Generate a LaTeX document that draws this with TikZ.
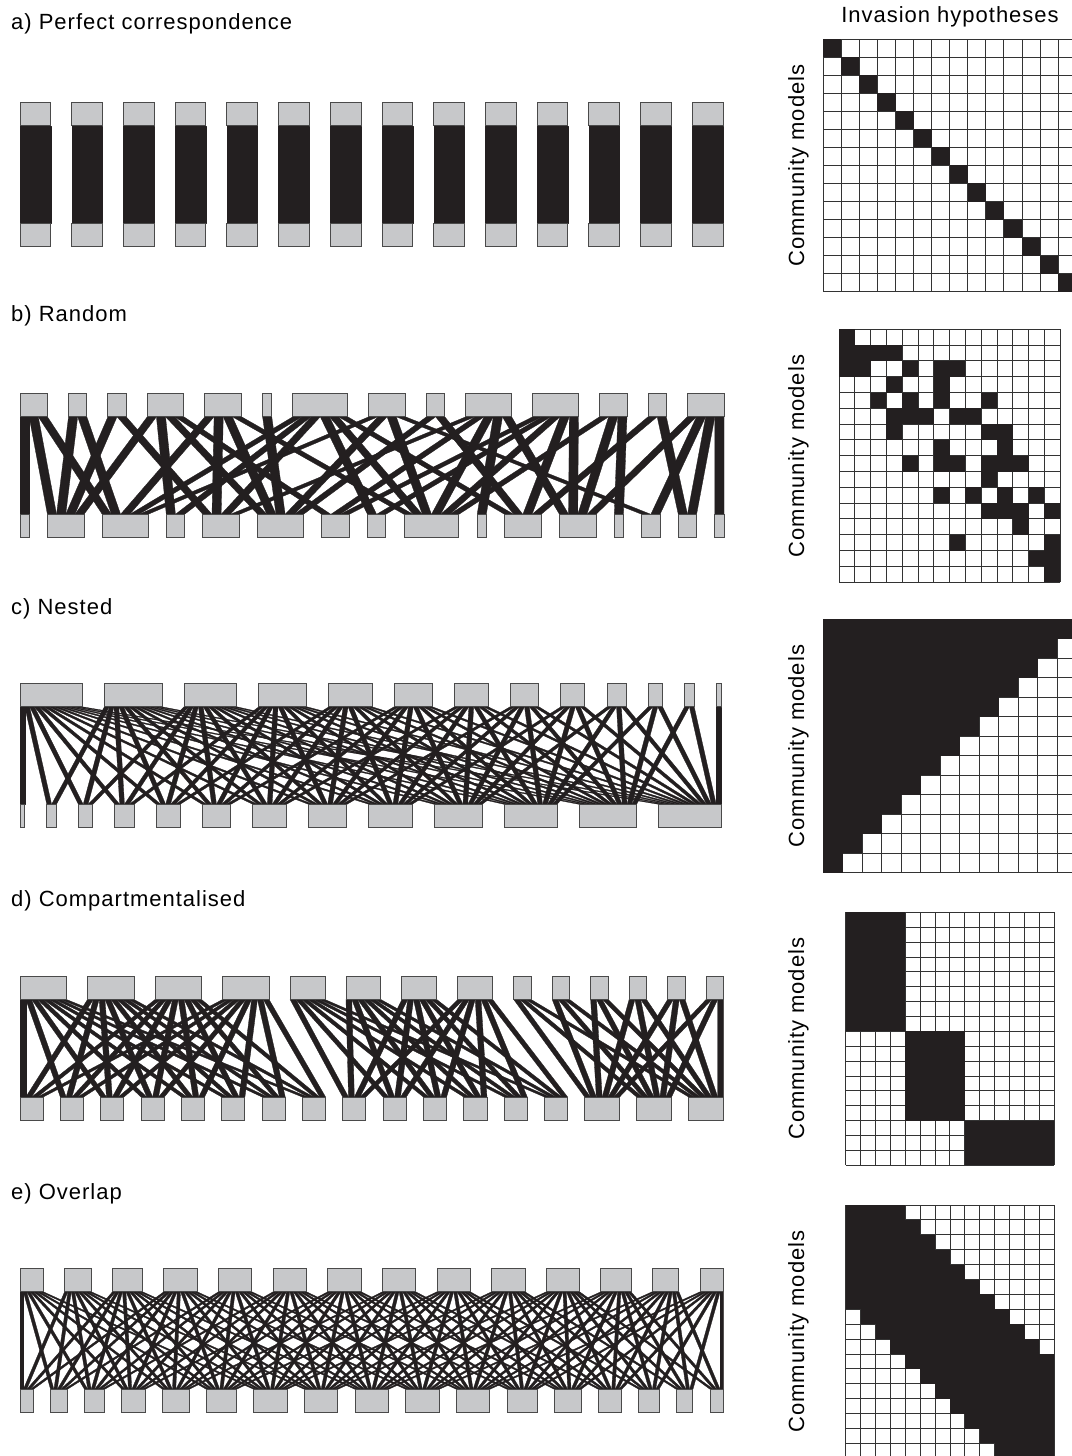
\documentclass[tikz,border=0pt]{standalone}
\usepackage{fontspec}
\setmainfont{Liberation Sans}
\newfontfamily\lblfont[LetterSpace=4.5]{Liberation Sans}
\definecolor{ink}{HTML}{231F20}
\definecolor{boxgray}{HTML}{C7C8CA}
\definecolor{boxline}{HTML}{4A4A4A}
\definecolor{gridc}{HTML}{333333}
\tikzset{
  webbox/.style={fill=boxgray, draw=boxline, line width=0.9pt},
  linkband/.style={fill=ink, draw=ink, line width=0.3pt, line join=round},
  gridl/.style={draw=gridc, line width=0.9pt, line cap=square},
  cellb/.style={fill=ink},
  lbl/.style={font=\lblfont\fontsize{22}{26}\selectfont, inner sep=0pt},
}
\newcommand\wboxh{23.5}
\newcommand\wspan{97.5}

% #1 ytop, #2 unit, #3 x0, #4 x1, #5 ncols(top), #6 nrows(bottom), #7 row lists
\newcommand\drawweb[7]{%
  \def\wy{#1}\def\wu{#2}%
  \foreach \j in {1,...,#5}{%
    \expandafter\xdef\csname wcd\j\endcsname{0}%
    \expandafter\xdef\csname wtc\j\endcsname{0}}%
  \xdef\wtot{0}%
  \foreach \r [count=\i] in #7{%
    \xdef\wrdeg{0}%
    \foreach \j in \r{%
      \expandafter\xdef\csname wcd\j\endcsname{\the\numexpr\csname wcd\j\endcsname+1\relax}%
      \xdef\wrdeg{\the\numexpr\wrdeg+1\relax}}%
    \expandafter\xdef\csname wrd\i\endcsname{\wrdeg}%
    \xdef\wtot{\the\numexpr\wtot+\wrdeg\relax}}%
  \pgfmathsetmacro\wgt{((#4)-(#3)-\wtot*\wu)/(#5-1)}%
  \pgfmathsetmacro\wgb{((#4)-(#3)-\wtot*\wu)/(#6-1)}%
  \xdef\wcx{#3}%
  \foreach \j in {1,...,#5}{%
    \expandafter\xdef\csname wtx\j\endcsname{\wcx}%
    \pgfmathsetmacro\wn{\wcx+\csname wcd\j\endcsname*\wu+\wgt}%
    \xdef\wcx{\wn}}%
  \xdef\wcx{#3}%
  \foreach \i in {1,...,#6}{%
    \expandafter\xdef\csname wbx\i\endcsname{\wcx}%
    \pgfmathsetmacro\wn{\wcx+\csname wrd\i\endcsname*\wu+\wgb}%
    \xdef\wcx{\wn}}%
  \pgfmathsetmacro\wya{\wy+\wboxh}%
  \pgfmathsetmacro\wyb{\wya+\wspan}%
  \foreach \r [count=\i] in #7{%
    \xdef\wk{0}%
    \foreach \j in \r{%
      \pgfmathsetmacro\wta{\csname wtx\j\endcsname+\csname wtc\j\endcsname*\wu}%
      \pgfmathsetmacro\wba{\csname wbx\i\endcsname+\wk*\wu}%
      \filldraw[linkband] (\wta,\wya) -- (\wta+\wu,\wya) -- (\wba+\wu,\wyb) -- (\wba,\wyb) -- cycle;
      \expandafter\xdef\csname wtc\j\endcsname{\the\numexpr\csname wtc\j\endcsname+1\relax}%
      \xdef\wk{\the\numexpr\wk+1\relax}}}%
  \foreach \j in {1,...,#5}{%
    \edef\wxx{\csname wtx\j\endcsname}%
    \pgfmathsetmacro\ww{\csname wcd\j\endcsname*\wu}%
    \filldraw[webbox] (\wxx,\wy) rectangle (\wxx+\ww,\wya);}%
  \foreach \i in {1,...,#6}{%
    \edef\wxx{\csname wbx\i\endcsname}%
    \pgfmathsetmacro\ww{\csname wrd\i\endcsname*\wu}%
    \filldraw[webbox] (\wxx,\wyb) rectangle (\wxx+\ww,\wyb+\wboxh);}%
}

% #1 x, #2 y, #3 cell, #4 ncols, #5 nrows, #6 row lists
\newcommand\drawmat[6]{%
  \fill[white] (#1,#2) rectangle ({#1+#4*#3},{#2+#5*#3});
  \foreach \c in {0,...,#4}{\draw[gridl] ({#1+\c*#3},#2) -- ({#1+\c*#3},{#2+#5*#3});}
  \foreach \c in {0,...,#5}{\draw[gridl] (#1,{#2+\c*#3}) -- ({#1+#4*#3},{#2+\c*#3});}
  \foreach \r [count=\i] in #6{\foreach \j in \r{\fill[cellb] ({#1+(\j-1)*#3},{#2+(\i-1)*#3}) rectangle ++(#3,#3);}}
}

\def\rowsA{{1},{2},{3},{4},{5},{6},{7},{8},{9},{10},{11},{12},{13},{14}}
\def\rowsB{{1},{1,2,3,4},{1,2,5,7,8},{4,7},{3,5,7,10},{4,5,6,8,9},{4,10,11},{7,11},{5,7,8,10,11,12},{10},{7,9,11,13},{10,11,12,14},{12},{8,14},{13,14},{14}}
\def\rowsCweb{{1},{1,2},{1,2,3},{1,2,3,4},{1,2,3,4,5},{1,2,3,4,5,6},{1,2,3,4,5,6,7},{1,2,3,4,5,6,7,8},{1,2,3,4,5,6,7,8,9},{1,2,3,4,5,6,7,8,9,10},{1,2,3,4,5,6,7,8,9,10,11},{1,2,3,4,5,6,7,8,9,10,11,12},{1,2,3,4,5,6,7,8,9,10,11,12,13}}
\def\rowsCmat{{1,2,3,4,5,6,7,8,9,10,11,12,13},{1,2,3,4,5,6,7,8,9,10,11,12},{1,2,3,4,5,6,7,8,9,10,11},{1,2,3,4,5,6,7,8,9,10},{1,2,3,4,5,6,7,8,9},{1,2,3,4,5,6,7,8},{1,2,3,4,5,6,7},{1,2,3,4,5,6},{1,2,3,4,5},{1,2,3,4},{1,2,3},{1,2},{1}}
\def\rowsD{{1,2,3,4},{1,2,3,4},{1,2,3,4},{1,2,3,4},{1,2,3,4},{1,2,3,4},{1,2,3,4},{1,2,3,4},{5,6,7,8},{5,6,7,8},{5,6,7,8},{5,6,7,8},{5,6,7,8},{5,6,7,8},{9,10,11,12,13,14},{9,10,11,12,13,14},{9,10,11,12,13,14}}
\def\rowsE{{1,2,3,4},{1,2,3,4,5},{1,2,3,4,5,6},{1,2,3,4,5,6,7},{1,2,3,4,5,6,7,8},{1,2,3,4,5,6,7,8,9},{1,2,3,4,5,6,7,8,9,10},{2,3,4,5,6,7,8,9,10,11},{3,4,5,6,7,8,9,10,11,12},{4,5,6,7,8,9,10,11,12,13},{5,6,7,8,9,10,11,12,13,14},{6,7,8,9,10,11,12,13,14},{7,8,9,10,11,12,13,14},{8,9,10,11,12,13,14},{9,10,11,12,13,14},{10,11,12,13,14},{11,12,13,14}}

\begin{document}
\begin{tikzpicture}[x=1pt,y=-1pt]
\useasboundingbox (0,0) rectangle (1071,1456);
\fill[white] (0,0) rectangle (1071,1456);

% panel labels
\node[lbl, anchor=base west] (la) at (11,29) {a) Perfect correspondence};
\node[lbl, anchor=base west] (lb) at (11,321.5) {b) Random};
\node[lbl, anchor=base west] (lc) at (11,614) {c) Nested};
\node[lbl, anchor=base west] (ld) at (11,906.5) {d) Compartmentalised};
\node[lbl, anchor=base west] (le) at (11,1199) {e) Overlap};

% webs
\drawweb{102.3}{30.7}{20}{723}{14}{14}{\rowsA}
\drawweb{393.3}{9.15}{20}{724}{14}{16}{\rowsB}
\drawweb{683.3}{4.8}{20}{721}{13}{13}{\rowsCweb}
\drawweb{976}{5.81}{20}{723.5}{14}{17}{\rowsD}
\drawweb{1268.3}{3.35}{20}{723.5}{14}{17}{\rowsE}

% matrices
\drawmat{823.3}{39}{18.06}{14}{14}{\rowsA}
\drawmat{839}{329.3}{15.8}{14}{16}{\rowsB}
\drawmat{823.3}{619.3}{19.5}{13}{13}{\rowsCmat}
\drawmat{845.7}{912.3}{14.88}{14}{17}{\rowsD}
\drawmat{845.7}{1205}{14.9}{14}{17}{\rowsE}

% axis texts
\node[lbl, anchor=base] (ih) at (950,23) {Invasion hypotheses};
\node[lbl, rotate=90, anchor=base] (cma) at (804,165.5) {Community models};
\node[lbl, rotate=90, anchor=base] (cmb) at (804,456) {Community models};
\node[lbl, rotate=90, anchor=base] (cmc) at (804,746) {Community models};
\node[lbl, rotate=90, anchor=base] (cmd) at (804,1038.7) {Community models};
\node[lbl, rotate=90, anchor=base] (cme) at (804,1331.5) {Community models};
\end{tikzpicture}
\end{document}
